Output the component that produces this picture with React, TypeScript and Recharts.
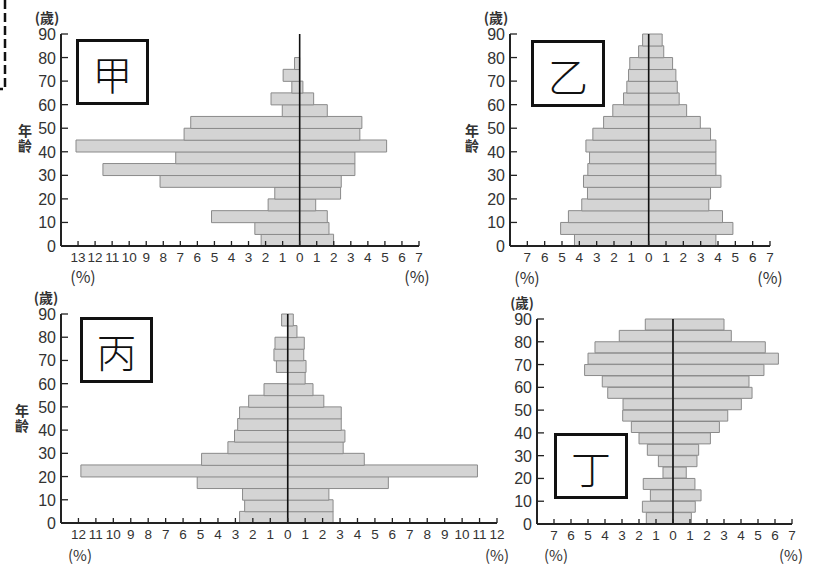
import { BarChart, Bar, XAxis, YAxis, ReferenceLine } from "recharts";

// 5-year age groups, bottom (0-4) to top (85-89)
const AGE_GROUPS = [
  "0-4", "5-9", "10-14", "15-19", "20-24", "25-29", "30-34", "35-39", "40-44",
  "45-49", "50-54", "55-59", "60-64", "65-69", "70-74", "75-79", "80-84", "85-89",
];
// middle of each group, for the numeric age axis
const AGE_MIDS = [2.5, 7.5, 12.5, 17.5, 22.5, 27.5, 32.5, 37.5, 42.5, 47.5, 52.5, 57.5, 62.5, 67.5, 72.5, 77.5, 82.5, 87.5];

const AGE_TICKS = [0, 10, 20, 30, 40, 50, 60, 70, 80, 90];

// 甲
const JIA_MALE = [2.26, 2.63, 5.17, 1.85, 1.46, 8.19, 11.54, 7.27, 13.12, 6.78, 6.39, 1.02, 1.68, 0.46, 0.97, 0.3, 0, 0];
const JIA_FEMALE = [1.99, 1.72, 1.62, 0.94, 2.4, 2.44, 3.24, 3.24, 5.1, 3.53, 3.65, 1.62, 0.82, 0.19, 0, 0, 0, 0];
const JIA_TICKS = [-13, -12, -11, -10, -9, -8, -7, -6, -5, -4, -3, -2, -1, 0, 1, 2, 3, 4, 5, 6, 7];

// 乙
const YI_MALE = [4.28, 5.08, 4.63, 3.86, 3.53, 3.76, 3.51, 3.41, 3.62, 3.22, 2.6, 2.07, 1.45, 1.26, 1.16, 1.09, 0.58, 0.35];
const YI_FEMALE = [3.88, 4.86, 4.26, 3.47, 3.57, 4.17, 3.88, 3.88, 3.88, 3.57, 2.98, 2.19, 1.76, 1.65, 1.57, 1.38, 0.87, 0.78];
const YI_TICKS = [-7, -6, -5, -4, -3, -2, -1, 0, 1, 2, 3, 4, 5, 6, 7];

// 丙
const BING_MALE = [2.76, 2.47, 2.59, 5.19, 11.86, 4.94, 3.43, 3.05, 2.87, 2.76, 2.24, 1.36, 0, 0.65, 0.79, 0.73, 0, 0.35];
const BING_FEMALE = [2.6, 2.6, 2.36, 5.77, 10.88, 4.39, 3.18, 3.28, 3.07, 3.07, 2.07, 1.45, 1.0, 1.05, 0.92, 0.95, 0.53, 0.32];
const BING_TICKS = [-12, -11, -10, -9, -8, -7, -6, -5, -4, -3, -2, -1, 0, 1, 2, 3, 4, 5, 6, 7, 8, 9, 10, 11, 12];

// 丁
const DING_MALE = [1.57, 1.8, 1.33, 1.75, 0.59, 0.86, 1.51, 2.0, 2.45, 2.96, 2.94, 3.84, 4.16, 5.2, 5.0, 4.59, 3.16, 1.63];
const DING_FEMALE = [1.08, 1.31, 1.65, 1.29, 0.78, 1.41, 1.51, 2.2, 2.73, 3.22, 4.02, 4.65, 4.47, 5.35, 6.2, 5.43, 3.43, 3.0];
const DING_TICKS = [-7, -6, -5, -4, -3, -2, -1, 0, 1, 2, 3, 4, 5, 6, 7];

const FONT = "'Liberation Sans', Arial, Helvetica, sans-serif";
const TEXT_COLOR = "#333";
const BAR_FILL = "#d4d4d4";
const BAR_STROKE = "#8a8a8a";
const AXIS_COLOR = "#222";

const Y_AXIS_W = 45;
const M_TOP = 10;
const M_RIGHT = 15;
const X_AXIS_H = 40;

function XTick(props: any) {
  const { x, y, payload } = props;
  return (
    <g>
      <line x1={x} x2={x} y1={y} y2={y - 5} stroke={AXIS_COLOR} strokeWidth={1.3} />
      <text x={x} y={y + 16} textAnchor="middle" fontSize={13.5} fontFamily={FONT} fill={TEXT_COLOR}>
        {Math.abs(payload.value)}
      </text>
    </g>
  );
}

function YTick(props: any) {
  const { x, y, payload } = props;
  return (
    <g>
      <line x1={x} x2={x + 7} y1={y} y2={y} stroke={AXIS_COLOR} strokeWidth={1.3} />
      <text x={x - 5} y={y + 6} textAnchor="end" fontSize={16} fontFamily={FONT} fill={TEXT_COLOR}>
        {payload.value}
      </text>
    </g>
  );
}

interface PyramidProps {
  male: number[];
  female: number[];
  ticks: number[];
  domain: [number, number];
  left: number;
  right: number;
  top: number;
  bottom: number;
}

function Pyramid({ male, female, ticks, domain, left, right, top, bottom }: PyramidProps) {
  const data = AGE_GROUPS.map((age, i) => ({ age, mid: AGE_MIDS[i], male: -male[i], female: female[i] }));
  const width = right - left + Y_AXIS_W + M_RIGHT;
  const height = bottom - top + M_TOP + X_AXIS_H;

  return (
    <div style={{ position: "absolute", left: left - Y_AXIS_W, top: top - M_TOP }}>
      <BarChart
        width={width}
        height={height}
        data={data}
        layout="vertical"
        stackOffset="sign"
        barCategoryGap={0}
        barGap={0}
        margin={{ top: M_TOP, right: M_RIGHT, bottom: 0, left: 0 }}
      >
        <XAxis
          type="number"
          domain={domain}
          allowDataOverflow
          ticks={ticks}
          interval={0}
          height={X_AXIS_H}
          tickSize={0}
          tickMargin={0}
          tickLine={false}
          tick={<XTick />}
          axisLine={{ stroke: AXIS_COLOR, strokeWidth: 2 }}
        />
        {/* bars sit on the hidden band axis, labels come from the numeric age axis */}
        <YAxis yAxisId="cat" type="category" dataKey="age" orientation="right" width={0} reversed hide />
        <YAxis
          yAxisId="num"
          type="number"
          dataKey="mid"
          orientation="left"
          domain={[0, 90]}
          allowDataOverflow
          reversed
          ticks={AGE_TICKS}
          interval={0}
          width={Y_AXIS_W}
          tickSize={0}
          tickMargin={0}
          tickLine={false}
          tick={<YTick />}
          axisLine={{ stroke: AXIS_COLOR, strokeWidth: 2 }}
        />
        <Bar
          yAxisId="cat"
          dataKey="male"
          stackId="p"
          fill={BAR_FILL}
          stroke={BAR_STROKE}
          strokeWidth={1}
          isAnimationActive={false}
        />
        <Bar
          yAxisId="cat"
          dataKey="female"
          stackId="p"
          fill={BAR_FILL}
          stroke={BAR_STROKE}
          strokeWidth={1}
          isAnimationActive={false}
        />
        <ReferenceLine yAxisId="num" x={0} stroke="#111" strokeWidth={1.6} />
      </BarChart>
    </div>
  );
}

const capStyle = { fontFamily: "'Noto Sans CJK TC', " + FONT, fill: TEXT_COLOR } as const;

function Caption({ x, y, text, size = 16, bold = false }: { x: number; y: number; text: string; size?: number; bold?: boolean }) {
  return (
    <text x={x} y={y} textAnchor="middle" dominantBaseline="central" fontSize={size} fontWeight={bold ? 700 : 400} style={capStyle}>
      {text}
    </text>
  );
}

// vertical "年齡" label
function AgeLabel({ x, y }: { x: number; y: number }) {
  return (
    <text
      x={x}
      y={y}
      textAnchor="middle"
      dominantBaseline="central"
      fontSize={14}
      fontWeight={700}
      letterSpacing={1}
      style={{ ...capStyle, writingMode: "vertical-rl" }}
    >
      年齡
    </text>
  );
}

function LabelBox({ x, y, w, h, text }: { x: number; y: number; w: number; h: number; text: string }) {
  return (
    <g>
      <rect x={x} y={y} width={w} height={h} fill="#fff" stroke="#111" strokeWidth={3} />
      <text
        x={x + w / 2}
        y={y + h / 2 + 1}
        textAnchor="middle"
        dominantBaseline="central"
        fontSize={40}
        fontWeight={300}
        fontFamily="'Noto Sans CJK TC', 'Noto Sans CJK SC', sans-serif"
        fill="#111"
      >
        {text}
      </text>
    </g>
  );
}

export default function App() {
  return (
    <div style={{ position: "absolute", left: 0, top: 0, width: 816, height: 565, background: "#fff", overflow: "hidden" }}>
      <Pyramid male={JIA_MALE} female={JIA_FEMALE} ticks={JIA_TICKS} domain={[-14, 7]} left={61} right={419} top={34} bottom={246} />
      <Pyramid male={YI_MALE} female={YI_FEMALE} ticks={YI_TICKS} domain={[-8, 7]} left={510} right={770} top={34} bottom={246} />
      <Pyramid male={BING_MALE} female={BING_FEMALE} ticks={BING_TICKS} domain={[-13, 12]} left={61} right={497} top={314} bottom={523} />
      <Pyramid male={DING_MALE} female={DING_FEMALE} ticks={DING_TICKS} domain={[-8, 7]} left={537} right={792} top={319} bottom={524} />

      <svg width={816} height={565} style={{ position: "absolute", left: 0, top: 0, pointerEvents: "none" }}>
        <path d="M5,0 L5,89 L0,89" fill="none" stroke="#111" strokeWidth={2.5} strokeDasharray="9 4" />

        <LabelBox x={77.5} y={40.5} w={70} h={63} text="甲" />
        <LabelBox x={532.5} y={41.5} w={71} h={64} text="乙" />
        <LabelBox x={81.5} y={318.5} w={70} h={63} text="丙" />
        <LabelBox x={555.5} y={434.5} w={71} h={63} text="丁" />

        {/* 甲 */}
        <Caption x={47} y={17} text="(歲)" size={14} bold />
        <AgeLabel x={25} y={139} />
        <Caption x={83} y={276} text="(%)" />
        <Caption x={417} y={276} text="(%)" />

        {/* 乙 */}
        <Caption x={496} y={17} text="(歲)" size={14} bold />
        <AgeLabel x={472} y={139} />
        <Caption x={527} y={277} text="(%)" />
        <Caption x={770} y={277} text="(%)" />

        {/* 丙 */}
        <Caption x={46} y={297} text="(歲)" size={14} bold />
        <AgeLabel x={22} y={419} />
        <Caption x={80} y={554} text="(%)" size={15} />
        <Caption x={497} y={554} text="(%)" size={15} />

        {/* 丁 */}
        <Caption x={522} y={302} text="(歲)" size={13.5} bold />
        <Caption x={556} y={554} text="(%)" size={15} />
        <Caption x={791} y={554} text="(%)" size={15} />
      </svg>
    </div>
  );
}
